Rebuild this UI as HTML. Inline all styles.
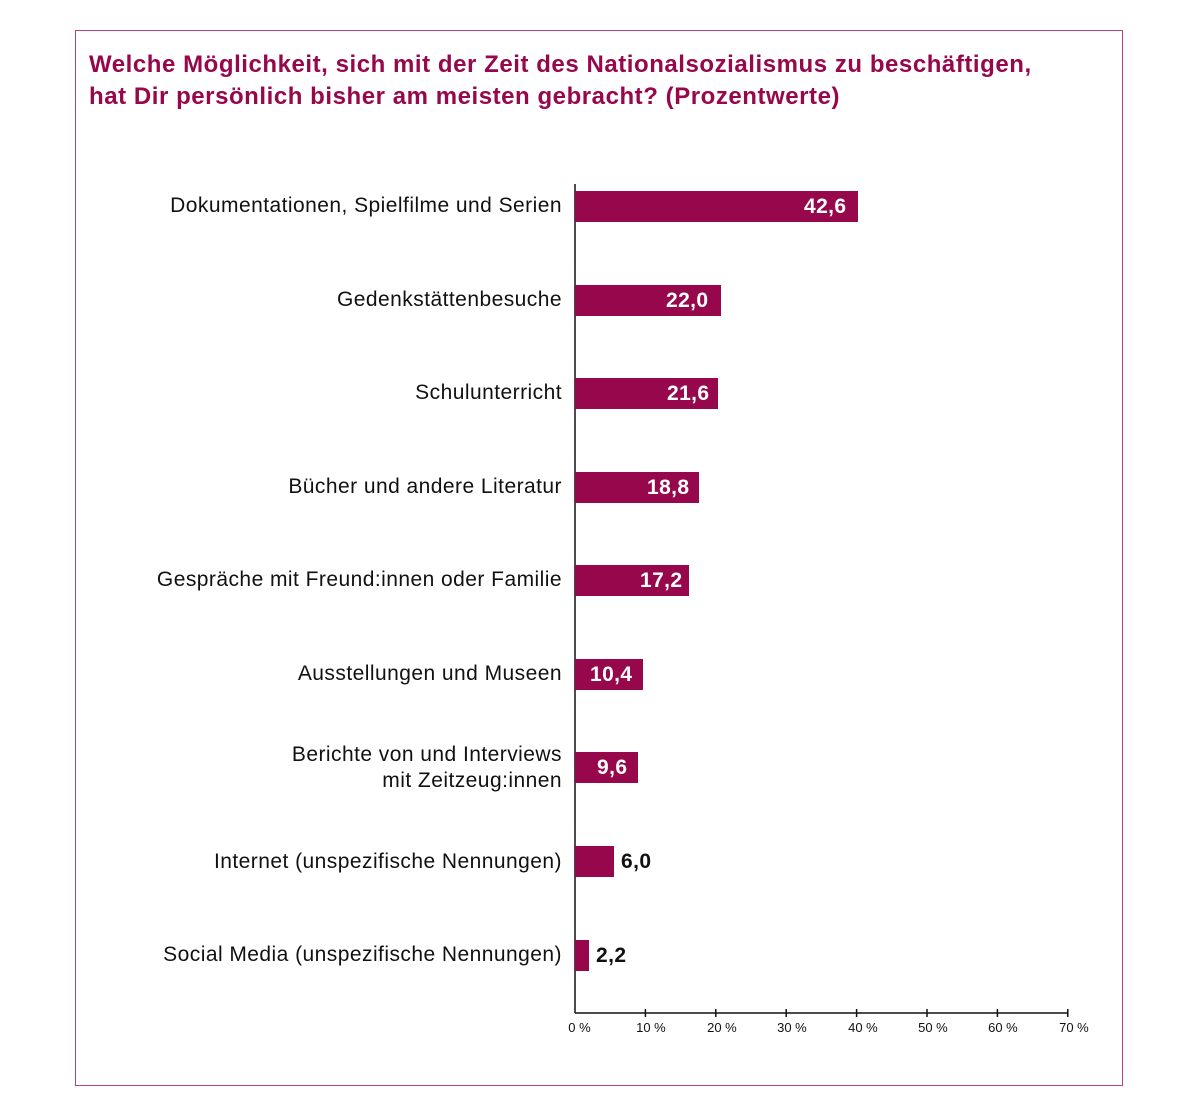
<!DOCTYPE html>
<html><head><meta charset="utf-8"><style>
body{margin:0;background:#fff;width:1200px;height:1101px;position:relative;font-family:"Liberation Sans",sans-serif;overflow:hidden}
.box{position:absolute;left:75px;top:30px;width:1046px;height:1054px;border:1.5px solid #b5427a}
.t{position:absolute;left:89px;top:49px;font-size:24px;font-weight:bold;color:#96074c;line-height:32px;letter-spacing:0.55px;white-space:nowrap}
.lab{position:absolute;right:638px;font-size:21px;color:#111;text-align:right;line-height:26px;white-space:nowrap;letter-spacing:0.45px}
.bar{position:absolute;left:575px;height:31px;background:#96074c}
.v{position:absolute;font-size:21px;font-weight:bold;line-height:31px;letter-spacing:0.4px}
.tk{position:absolute;top:1020px;font-size:13px;color:#111;transform:translateX(-30%)}
</style></head><body>
<div class="box"></div>
<div class="t">Welche Möglichkeit, sich mit der Zeit des Nationalsozialismus zu beschäftigen,<br>hat Dir persönlich bisher am meisten gebracht? (Prozentwerte)</div>
<svg style="position:absolute;left:0;top:0" width="1200" height="1101">
<line x1="575" y1="184" x2="575" y2="1013" stroke="#111" stroke-width="1.5"/>
<line x1="575" y1="1013" x2="1068" y2="1013" stroke="#111" stroke-width="1.5"/>
<g stroke="#111" stroke-width="1.5">
<line x1="645.4" y1="1009" x2="645.4" y2="1017"/><line x1="715.8" y1="1009" x2="715.8" y2="1017"/><line x1="786.2" y1="1009" x2="786.2" y2="1017"/><line x1="856.6" y1="1009" x2="856.6" y2="1017"/><line x1="927" y1="1009" x2="927" y2="1017"/><line x1="997.4" y1="1009" x2="997.4" y2="1017"/><line x1="1067.8" y1="1009" x2="1067.8" y2="1017"/>
</g></svg>
<div class="tk" style="left:575px">0 %</div><div class="tk" style="left:645px">10 %</div><div class="tk" style="left:716px">20 %</div><div class="tk" style="left:786px">30 %</div><div class="tk" style="left:857px">40 %</div><div class="tk" style="left:927px">50 %</div><div class="tk" style="left:997px">60 %</div><div class="tk" style="left:1068px">70 %</div>

<div class="lab" style="top:193px">Dokumentationen, Spielfilme und Serien</div>
<div class="bar" style="top:191px;width:283px"></div><div class="v" style="top:191px;left:804px;color:#fff">42,6</div>
<div class="lab" style="top:287px">Gedenkstättenbesuche</div>
<div class="bar" style="top:285px;width:146px"></div><div class="v" style="top:285px;left:666px;color:#fff">22,0</div>
<div class="lab" style="top:380px">Schulunterricht</div>
<div class="bar" style="top:378px;width:143px"></div><div class="v" style="top:378px;left:667px;color:#fff">21,6</div>
<div class="lab" style="top:474px">Bücher und andere Literatur</div>
<div class="bar" style="top:472px;width:124px"></div><div class="v" style="top:472px;left:647px;color:#fff">18,8</div>
<div class="lab" style="top:567px">Gespräche mit Freund:innen oder Familie</div>
<div class="bar" style="top:565px;width:114px"></div><div class="v" style="top:565px;left:640px;color:#fff">17,2</div>
<div class="lab" style="top:661px">Ausstellungen und Museen</div>
<div class="bar" style="top:659px;width:68px"></div><div class="v" style="top:659px;left:590px;color:#fff">10,4</div>
<div class="lab" style="top:742px">Berichte von und Interviews<br>mit Zeitzeug:innen</div>
<div class="bar" style="top:752px;width:63px"></div><div class="v" style="top:752px;left:597px;color:#fff">9,6</div>
<div class="lab" style="top:849px">Internet (unspezifische Nennungen)</div>
<div class="bar" style="top:846px;width:39px"></div><div class="v" style="top:846px;left:621px;color:#111">6,0</div>
<div class="lab" style="top:942px">Social Media (unspezifische Nennungen)</div>
<div class="bar" style="top:940px;width:14px"></div><div class="v" style="top:940px;left:596px;color:#111">2,2</div>
</body></html>
